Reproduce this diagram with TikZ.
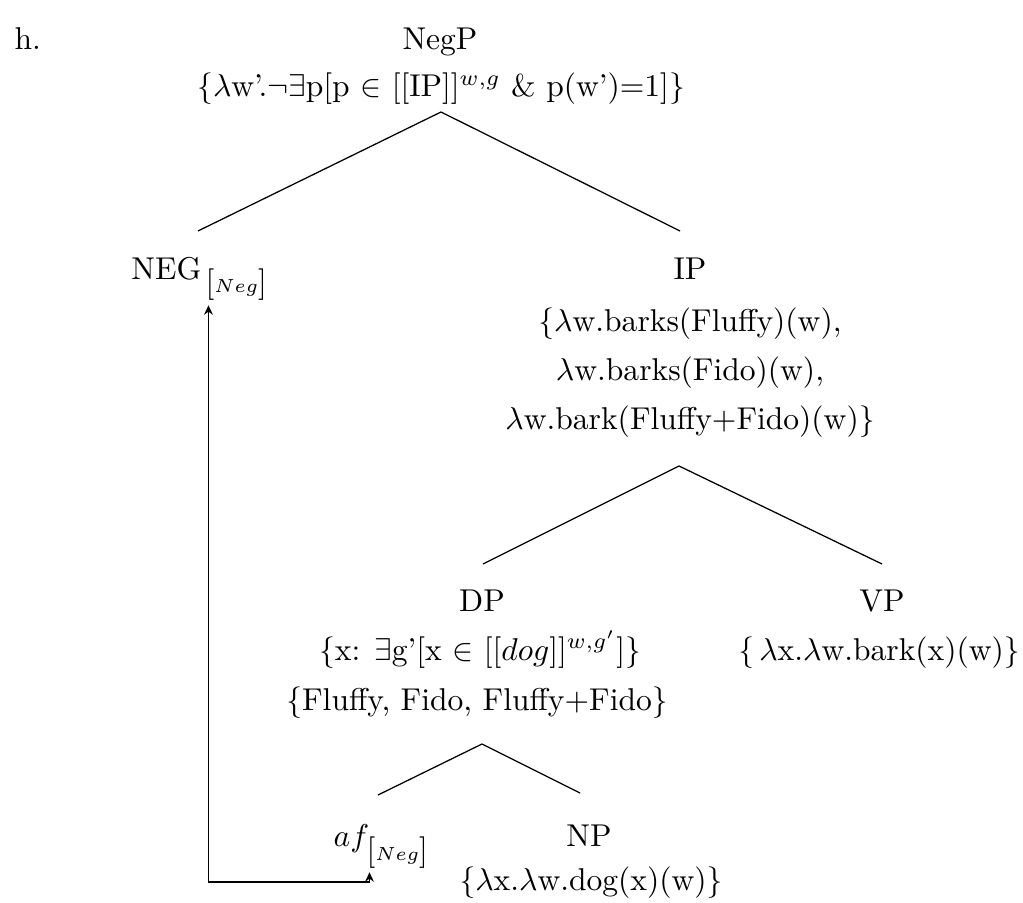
\documentclass[tikz,border=0pt]{standalone}
\usetikzlibrary{arrows.meta}
\newcommand{\negfeat}{[{\fontsize{6.5}{8}\selectfont$Neg$}]}
\begin{document}
\begin{tikzpicture}[x=0.317pt,y=-0.317pt,
  lab/.style={anchor=base,inner sep=0pt,font=\fontsize{10}{12}\selectfont},
  sub/.style={anchor=base west,inner sep=0pt,font=\fontsize{10}{12}\selectfont},
  edge/.style={line width=0.4pt},
  move/.style={line width=0.4pt,{Stealth[length=3pt,width=2.8pt]}-{Stealth[length=3pt,width=2.8pt]}}]
\useasboundingbox (0,0) rectangle (1023,903);
\node[lab,anchor=base west] (h) at (14,50) {h.};
\node[lab] (negp) at (440,50) {NegP};
\node[lab] (negpf) at (441,97) {\{$\lambda$w'.$\neg\exists$p[p $\in$ [[IP]]$^{w,g}$~\& p(w')=1]\}};
\node[lab,anchor=base east] (neg) at (202,280) {NEG};
\node[sub] (negsub) at (205,293) {\negfeat};
\node[lab] (ip) at (690,280) {IP};
\node[lab] (ip1) at (690,332) {\{$\lambda$w.barks(Fluffy)(w),};
\node[lab] (ip2) at (690,381) {$\lambda$w.barks(Fido)(w),};
\node[lab] (ip3) at (690,430) {$\lambda$w.bark(Fluffy+Fido)(w)\}};
\node[lab] (dp) at (482,612) {DP};
\node[lab] (vp) at (882,612) {VP};
\node[lab] (dp1) at (480,660) {\{x: $\exists$g'[x $\in$ [[$dog$]]$^{w,g'}$]\}};
\node[lab] (dp2) at (477,710) {\{Fluffy, Fido, Fluffy+Fido\}};
\node[lab] (vp1) at (879,660) {\{\,$\lambda$x.$\lambda$w.bark(x)(w)\}};
\node[lab,anchor=base west] (af) at (333,846) {$af$};
\node[sub] (afsub) at (366,860) {\negfeat};
\node[lab] (np) at (589,846) {NP};
\node[lab] (np1) at (591,890) {\{$\lambda$x.$\lambda$w.dog(x)(w)\}};
% tree edges
\coordinate (t0) at (441,112);
\draw[edge] (t0) -- (198,231);
\draw[edge] (t0) -- (680,231);
\coordinate (t1) at (679,466);
\draw[edge] (t1) -- (483,564);
\draw[edge] (t1) -- (882,564);
\coordinate (t2) at (482,744);
\draw[edge] (t2) -- (378,795);
\draw[edge] (t2) -- (580,793);
% movement arrow
\coordinate (afs) at ([xshift=1.1pt,yshift=-1.2pt]afsub.south west);
\coordinate (negs) at ([xshift=1.1pt,yshift=-1.2pt]negsub.south west);
\coordinate (bot) at (0,882);
\draw[move] (afs) -- (afs |- bot) -- (negs |- bot) -- (negs);
\end{tikzpicture}
\end{document}
